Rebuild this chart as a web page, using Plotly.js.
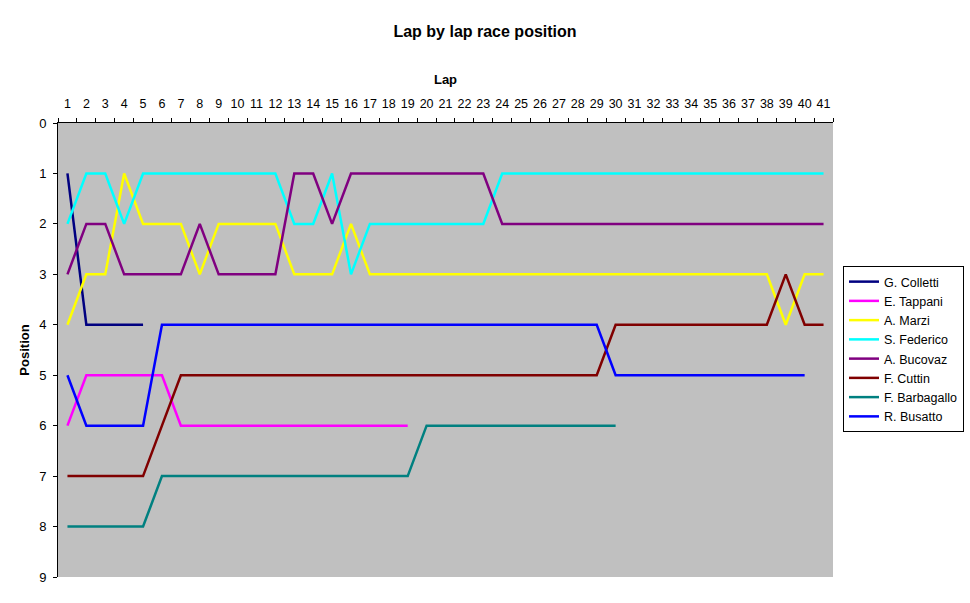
<!DOCTYPE html>
<html>
<head>
<meta charset="utf-8">
<script src="https://cdn.plot.ly/plotly-3.0.1.min.js"></script>
<style>
  html, body { margin: 0; padding: 0; background: #fff; }
  #chart { width: 970px; height: 603px; }
</style>
</head>
<body>
<div id="chart"></div>
<script>
// lap labels 1..41
const laps = ['1','2','3','4','5','6','7','8','9','10','11','12','13','14','15','16','17','18','19','20',
    '21','22','23','24','25','26','27','28','29','30','31','32','33','34','35','36','37','38','39','40','41'];

const drivers = ['G. Colletti', 'E. Tappani', 'A. Marzi', 'S. Federico', 'A. Bucovaz', 'F. Cuttin', 'F. Barbagallo', 'R. Busatto'];
const colors = ['#000080', '#FF00FF', '#FFFF00', '#00FFFF', '#800080', '#800000', '#008080', '#0000FF'];

// position per lap, starting at lap 1
const colletti = [1, 4, 4, 4, 4];
const tappani = [6, 5, 5, 5, 5, 5, 6, 6, 6, 6, 6, 6, 6, 6, 6, 6, 6, 6, 6];
const marzi = [4, 3, 3, 1, 2, 2, 2, 3, 2, 2, 2, 2, 3, 3, 3, 2, 3, 3, 3, 3,
    3, 3, 3, 3, 3, 3, 3, 3, 3, 3, 3, 3, 3, 3, 3, 3, 3, 3, 4, 3, 3];
const federico = [2, 1, 1, 2, 1, 1, 1, 1, 1, 1, 1, 1, 2, 2, 1, 3, 2, 2, 2, 2,
    2, 2, 2, 1, 1, 1, 1, 1, 1, 1, 1, 1, 1, 1, 1, 1, 1, 1, 1, 1, 1];
const bucovaz = [3, 2, 2, 3, 3, 3, 3, 2, 3, 3, 3, 3, 1, 1, 2, 1, 1, 1, 1, 1,
    1, 1, 1, 2, 2, 2, 2, 2, 2, 2, 2, 2, 2, 2, 2, 2, 2, 2, 2, 2, 2];
const cuttin = [7, 7, 7, 7, 7, 6, 5, 5, 5, 5, 5, 5, 5, 5, 5, 5, 5, 5, 5, 5,
    5, 5, 5, 5, 5, 5, 5, 5, 5, 4, 4, 4, 4, 4, 4, 4, 4, 4, 3, 4, 4];
const barbagallo = [8, 8, 8, 8, 8, 7, 7, 7, 7, 7, 7, 7, 7, 7, 7, 7, 7, 7, 7, 6,
    6, 6, 6, 6, 6, 6, 6, 6, 6, 6];
const busatto = [5, 6, 6, 6, 6, 4, 4, 4, 4, 4, 4, 4, 4, 4, 4, 4, 4, 4, 4, 4,
    4, 4, 4, 4, 4, 4, 4, 4, 4, 5, 5, 5, 5, 5, 5, 5, 5, 5, 5, 5];

const series = [colletti, tappani, marzi, federico, bucovaz, cuttin, barbagallo, busatto];

const traces = series.map((vals, i) => ({
    type: 'scatter',
    mode: 'lines',
    name: drivers[i],
    x: laps.slice(0, vals.length),
    y: vals,
    line: { color: colors[i], width: 2.5 }
}));

const layout = {
    width: 970,
    height: 603,
    paper_bgcolor: '#ffffff',
    plot_bgcolor: '#C0C0C0',
    font: { family: 'Liberation Sans, Arial, sans-serif', size: 12, color: '#000' },
    margin: { t: 123, b: 26, l: 58, r: 137, autoexpand: false },
    title: {
        text: '<b>Lap by lap race position</b>',
        font: { size: 16 },
        x: 0.5, xref: 'container', xanchor: 'center',
        y: 1 - 31 / 603, yanchor: 'middle'
    },
    xaxis: {
        type: 'category',
        side: 'top',
        categoryorder: 'array',
        categoryarray: laps,
        range: [-0.5, 40.5],
        tickson: 'boundaries',
        tickangle: 0,
        ticks: 'outside',
        ticklen: 4,
        tickcolor: '#000',
        ticklabelstandoff: 9,
        showline: true,
        linecolor: '#000',
        linewidth: 1,
        showgrid: false,
        zeroline: false,
        tickfont: { size: 12.5 },
        title: { text: '<b>Lap</b>', font: { size: 13 }, standoff: 9 }
    },
    yaxis: {
        range: [9, 0],
        tickvals: [0, 1, 2, 3, 4, 5, 6, 7, 8, 9],
        ticks: 'outside',
        ticklen: 4,
        tickcolor: '#000',
        ticklabelstandoff: 4,
        showline: true,
        linecolor: '#000',
        linewidth: 1,
        showgrid: false,
        zeroline: false,
        tickfont: { size: 13 },
        title: { text: '<b>Position</b>', font: { size: 13 }, standoff: 6 }
    },
    showlegend: true,
    legend: {
        x: 785 / 775,
        xanchor: 'left',
        y: (577 - 266) / 454,
        yanchor: 'top',
        bgcolor: '#ffffff',
        bordercolor: '#000',
        borderwidth: 1,
        font: { size: 12.5 },
        tracegroupgap: 0
    }
};

Plotly.newPlot('chart', traces, layout, { displayModeBar: false, responsive: false });
</script>
</body>
</html>
